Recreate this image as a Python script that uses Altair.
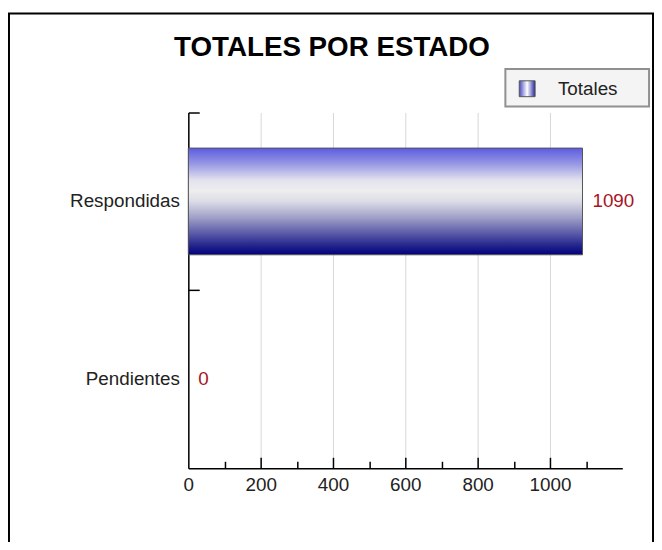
import altair as alt
import pandas as pd

# ---- data ----
estados = ["Respondidas", "Pendientes"]
totales = [1090, 0]
serie = ["Totales"]
titulo = ["TOTALES POR ESTADO"]
x_labels = [0, 200, 400, 600, 800, 1000]
x_minor = [100, 200, 300, 400, 500, 600, 700, 800, 900, 1000, 1100]

df = pd.DataFrame({"estado": estados, "valor": totales})
one = pd.DataFrame({"serie": serie, "titulo": titulo})

W, H = 438, 359
FONT = "Liberation Sans"

xscale = alt.Scale(domain=[0, 1200], nice=False, zero=True)
yscale = alt.Scale(domain=estados, paddingInner=0, paddingOuter=0)

bar_grad = alt.Gradient(
    gradient="linear", x1=0, x2=0, y1=0, y2=1,
    stops=[
        alt.GradientStop(offset=0.0, color="#5c5ce0"),
        alt.GradientStop(offset=0.15, color="#9898e4"),
        alt.GradientStop(offset=0.3, color="#e2e2ee"),
        alt.GradientStop(offset=0.4, color="#eeeeee"),
        alt.GradientStop(offset=0.5, color="#dcdce6"),
        alt.GradientStop(offset=0.65, color="#a0a0c8"),
        alt.GradientStop(offset=0.8, color="#5a5aa8"),
        alt.GradientStop(offset=0.9, color="#2a2a90"),
        alt.GradientStop(offset=1.0, color="#00007c"),
    ],
)

sym_grad = alt.Gradient(
    gradient="linear", x1=0, x2=1, y1=0, y2=0,
    stops=[
        alt.GradientStop(offset=0.0, color="#4848c0"),
        alt.GradientStop(offset=0.5, color="#ffffff"),
        alt.GradientStop(offset=1.0, color="#2828a0"),
    ],
)

frame = alt.Chart(one).mark_rect(filled=False, stroke="black", strokeWidth=2).encode(
    x=alt.value(-181), x2=alt.value(469), y=alt.value(-100), y2=alt.value(520)
)

title = alt.Chart(one).mark_text(
    align="center", baseline="alphabetic", font=FONT, fontSize=28,
    fontWeight="bold", color="black"
).encode(x=alt.value(145), y=alt.value(-57), text="titulo:N")

bars = alt.Chart(df).mark_bar(
    color=bar_grad, stroke="#555555", height={"band": 0.6}
).encode(
    x=alt.X("valor:Q", scale=xscale, axis=alt.Axis(
        orient="bottom", values=x_labels, title=None, ticks=False, format="d",
        grid=True, gridColor="#d8d8d8", gridWidth=1,
        domain=True, domainColor="black", domainWidth=1.5,
        labelFont=FONT, labelFontSize=19, labelColor="#222222", labelPadding=8,
        labelFlush=False)),
    y=alt.Y("estado:N", scale=yscale, sort=estados, axis=alt.Axis(
        orient="left", title=None, ticks=False, grid=False,
        domain=True, domainColor="black", domainWidth=1.5,
        labelFont=FONT, labelFontSize=19, labelColor="#222222", labelPadding=9)),
    strokeWidth=alt.condition("datum.valor > 0", alt.value(1), alt.value(0)),
)

tick_layer = alt.Chart(df).mark_point(opacity=0).encode(
    x=alt.X("valor:Q", scale=xscale, axis=alt.Axis(
        orient="top", offset=-H, values=x_minor, title=None, labels=False,
        domain=False, grid=False, ticks=True, tickColor="black", tickWidth=1.5,
        tickSize={"condition": {"test": "datum.value % 200 === 0", "value": 11}, "value": 7})),
    y=alt.Y("estado:N", scale=yscale, sort=estados, axis=alt.Axis(
        orient="right", offset=-W, title=None, labels=False, domain=False,
        grid=False, ticks=True, tickColor="black", tickWidth=1.5, tickSize=11,
        bandPosition=0)),
)

labels = alt.Chart(df).mark_text(
    align="left", baseline="middle", dx=10, font=FONT, fontSize=19, color="#a8141e"
).encode(
    x=alt.X("valor:Q", scale=xscale, axis=None),
    y=alt.Y("estado:N", scale=yscale, sort=estados, axis=None),
    text=alt.Text("valor:Q", format="d"),
)

leg_box = alt.Chart(one).mark_rect(fill="#f4f4f4", stroke="#909090", strokeWidth=2).encode(
    x=alt.value(320), x2=alt.value(465), y=alt.value(-44), y2=alt.value(-6)
)
leg_sym = alt.Chart(one).mark_rect(color=sym_grad, stroke="#555555", strokeWidth=1).encode(
    x=alt.value(334), x2=alt.value(350), y=alt.value(-32), y2=alt.value(-16)
)
leg_txt = alt.Chart(one).mark_text(
    align="left", baseline="middle", font=FONT, fontSize=19, color="#222222"
).encode(x=alt.value(373), y=alt.value(-24), text="serie:N")

chart = alt.layer(
    frame, title, bars, tick_layer, labels, leg_box, leg_sym, leg_txt
).resolve_axis(x="independent", y="independent").properties(
    width=W, height=H,
    autosize=alt.AutoSizeParams(type="none"),
    padding={"left": 182, "top": 103, "right": 32, "bottom": 72},
    background="white",
).configure_view(stroke=None)

chart.save("out.html", embed_options={"renderer": "svg", "actions": False})
